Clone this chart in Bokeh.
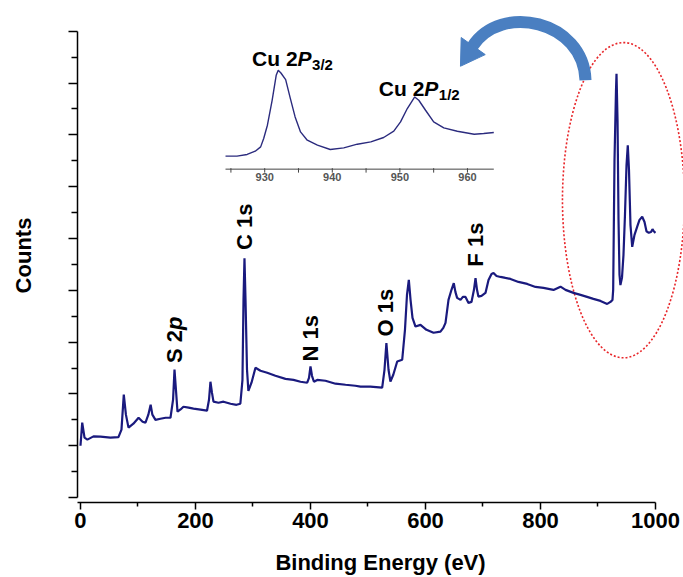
from bokeh.plotting import figure
from bokeh.models import Range1d, FixedTicker, CustomJSTickFormatter, Label
from bokeh.embed import file_html
from bokeh.resources import INLINE
from bokeh.core.properties import value

# ---------------- data: XPS survey spectrum ----------------
survey_be = [0, 3, 7, 12, 22.6, 34.8, 52, 66, 71.3, 75.3, 79, 83.5, 92, 101, 108, 113, 118, 122, 125,
             130.4, 139, 148, 156.5, 161, 163.5, 166, 168.7, 174, 179, 188, 196.5, 208.7, 220, 223.5,
             226, 228.7, 231.3, 240, 248.7, 260.9, 271.3, 278, 281.7, 283.5, 285.2, 287, 289.6, 292,
             297.4, 304.3, 313, 324.7, 339, 356.5, 370.4, 382.6, 394.3, 397.4, 400, 402.6, 406, 411.7,
             426, 443.5, 461, 478, 487, 504, 524.7, 528.7, 532, 535.7, 539, 544, 550.8, 559.5, 564.3,
             567.8, 571, 574, 577.4, 582.6, 591.3, 601.7, 614, 626, 631, 634.8, 640, 645.2, 649.2, 652,
             655, 660.9, 665, 669.6, 674.8, 680, 684.3, 687, 689.6, 692, 697.4, 704.3, 709.6, 714.8,
             718.3, 723.5, 730.4, 739, 747.8, 761.7, 776.9, 791.3, 805.2, 822.6, 834.8, 843.5, 857.4,
             869.6, 881, 892, 904.3, 916, 921.7, 925.2, 926.4, 928.7, 931.3, 932.2, 934, 935.7, 937.4,
             939, 941.7, 944.3, 946.9, 949.6, 951.8, 953.9, 956.5, 959.5, 963.5, 968.2, 972.2, 976.9,
             980.9, 984.3, 988.3, 992.2, 994.8, 997, 1000]
survey_counts = [1.00, 1.445, 1.156, 1.118, 1.181, 1.175, 1.156, 1.166, 1.31, 1.985, 1.6, 1.35, 1.426,
                 1.54, 1.464, 1.445, 1.6, 1.79, 1.6, 1.50, 1.52, 1.54, 1.54, 1.89, 2.47, 2.08, 1.657,
                 1.70, 1.753, 1.734, 1.715, 1.696, 1.676, 1.888, 2.235, 2.02, 1.85, 1.83, 1.85, 1.81,
                 1.79, 1.81, 2.27, 3.815, 4.62, 3.815, 2.466, 2.06, 2.216, 2.505, 2.447, 2.408, 2.35,
                 2.29, 2.27, 2.235, 2.216, 2.31, 2.53, 2.35, 2.235, 2.27, 2.254, 2.197, 2.177, 2.158,
                 2.14, 2.139, 2.12, 2.466, 2.98, 2.466, 2.24, 2.37, 2.626, 2.66, 3.237, 3.91, 4.20,
                 3.815, 3.468, 3.30, 3.333, 3.237, 3.18, 3.204, 3.276, 3.372, 3.815, 4.01, 4.137, 3.97,
                 3.854, 3.815, 3.873, 3.873, 3.757, 3.776, 4.01, 4.233, 4.01, 3.879, 3.892, 3.95, 4.20,
                 4.316, 4.335, 4.277, 4.258, 4.239, 4.22, 4.162, 4.123, 4.065, 4.046, 4.008, 4.07,
                 4.008, 3.95, 3.911, 3.873, 3.834, 3.796, 3.738, 3.776, 3.815, 4.008, 6.51, 7.86, 8.18,
                 7.27, 5.36, 4.30, 4.10, 4.24, 4.68, 5.45, 6.42, 6.80, 6.32, 5.26, 4.84, 5.07, 5.23,
                 5.36, 5.42, 5.32, 5.14, 5.11, 5.125, 5.18, 5.14, 5.11]

# ---------------- data: Cu 2p inset ----------------
cu_be = [924.2, 925.9, 927.4, 928.6, 929.4, 929.85, 930.4, 931.1, 931.7, 932.0, 932.4, 933.1, 933.8,
         934.5, 935.3, 936.3, 937.8, 939.7, 941.7, 943.7, 945.7, 947.6, 949.1, 950.1, 951.1, 952.2,
         952.8, 953.8, 955.0, 956.5, 958.5, 961.0, 962.4, 963.9]
cu_counts = [1.3, 1.3, 1.47, 1.8, 2.23, 3.07, 4.4, 6.9, 9.4, 9.9, 9.63, 8.97, 7.07, 5.23, 3.73, 2.9,
             2.4, 1.97, 2.13, 2.5, 2.73, 3.17, 3.8, 4.73, 6.07, 7.23, 6.9, 5.9, 4.73, 4.13, 3.8, 3.5,
             3.57, 3.67]

x_ticks = [0, 200, 400, 600, 800, 1000]
x_minor = [100, 300, 500, 700, 900]
y_ticks = [0, 1, 2, 3, 4, 5, 6, 7, 8, 9]
y_minor = [0.5, 1.5, 2.5, 3.5, 4.5, 5.5, 6.5, 7.5, 8.5]
inset_ticks = [930, 940, 950, 960]
inset_minor = [925, 935, 945, 955]

peak_names = ["C 1s", "N 1s", "O 1s", "F 1s"]
peak_be = [285.6, 400, 530.4, 687]
peak_y = [4.78, 2.626, 3.108, 4.457]
s_label_be, s_label_y = 163.8, 2.595

# ---------------- layout ----------------
X0, X1 = -5.2, 1048.7
Y0, Y1 = -0.096, 9.44
ins_ax_main = (252.2, 718.8)     # main-x extent of the inset axis
ins_ax_be = (924.2, 963.9)       # inset energy extent
ins_base_main = 6.339            # main-y of inset baseline
ins_unit_main = 0.1927           # main-y per inset unit
sx = (ins_ax_be[1] - ins_ax_be[0]) / (ins_ax_main[1] - ins_ax_main[0])
inset_x = Range1d(ins_ax_be[0] + (X0 - ins_ax_main[0]) * sx, ins_ax_be[0] + (X1 - ins_ax_main[0]) * sx)
inset_y = Range1d((Y0 - ins_base_main) / ins_unit_main, (Y1 - ins_base_main) / ins_unit_main)

FONT = "Liberation Sans"

p = figure(width=683, height=577, x_range=Range1d(X0, X1), y_range=Range1d(Y0, Y1),
           output_backend="svg", toolbar_location=None,
           min_border_left=77, min_border_right=0, min_border_top=8, min_border_bottom=74)
p.extra_x_ranges = {"inset_x": inset_x}
p.extra_y_ranges = {"inset_y": inset_y}
p.outline_line_color = None
p.grid.visible = False

# x axis
xa = p.xaxis[0]
xa.ticker = FixedTicker(ticks=x_ticks, minor_ticks=x_minor)
xa.bounds = (X0, 1000)
xa.axis_line_width = 1.5
xa.major_tick_line_width = 1.5
xa.minor_tick_line_width = 1.5
xa.major_tick_out = 7
xa.major_tick_in = 0
xa.minor_tick_out = 4
xa.minor_tick_in = 0
xa.major_label_standoff = 3
xa.major_label_text_font = FONT
xa.major_label_text_font_style = "bold"
xa.major_label_text_font_size = "22px"
xa.major_label_text_color = "black"
xa.axis_label = "Binding Energy (eV)"
xa.axis_label_text_font = FONT
xa.axis_label_text_font_style = "bold"
xa.axis_label_text_font_size = "22px"
xa.axis_label_text_color = "black"
xa.axis_label_standoff = 19

# y axis
ya = p.yaxis[0]
ya.ticker = FixedTicker(ticks=y_ticks, minor_ticks=y_minor)
ya.bounds = (0, 9)
ya.formatter = CustomJSTickFormatter(code="return ''")
ya.axis_line_width = 1.5
ya.major_tick_line_width = 1.5
ya.minor_tick_line_width = 1.5
ya.major_tick_out = 9
ya.major_tick_in = 0
ya.minor_tick_out = 6
ya.minor_tick_in = 0
ya.major_label_standoff = 0
ya.axis_label = "Counts"
ya.axis_label_text_font = FONT
ya.axis_label_text_font_style = "bold"
ya.axis_label_text_font_size = "22px"
ya.axis_label_text_color = "black"
ya.axis_label_standoff = 33

# highlight ellipse around Cu 2p region
p.ellipse(x=944.3, y=5.74, width=212.2, height=6.09, fill_color=None,
          line_color="#e8262a", line_dash="2 2", line_width=1.6)

# main spectrum
p.line(survey_be, survey_counts, line_color="#1a1a7e", line_width=2.2)

# inset spectrum
p.line(cu_be, cu_counts, x_range_name="inset_x", y_range_name="inset_y",
       line_color="#2b2b7e", line_width=1.4)
p.segment(x0=[ins_ax_be[0]], y0=[0], x1=[ins_ax_be[1]], y1=[0],
          x_range_name="inset_x", y_range_name="inset_y", line_color="#444444", line_width=1)
p.segment(x0=inset_ticks + inset_minor, y0=0.1, x1=inset_ticks + inset_minor, y1=-0.35,
          x_range_name="inset_x", y_range_name="inset_y", line_color="#444444", line_width=1)
p.text(x=inset_ticks, y=[0] * len(inset_ticks), text=[str(t) for t in inset_ticks],
       x_range_name="inset_x", y_range_name="inset_y", text_align="center", text_baseline="top",
       y_offset=4, text_font=value(FONT), text_font_style="bold", text_font_size="11px",
       text_color="#555555")

# curved arrow
p.bezier(x0=[878.3], y0=[8.054], x1=[681.7], y1=[8.709], cx0=[874.8], cy0=[9.21],
         cx1=[730.4], cy1=[9.557], line_color="#4a7fc1", line_width=12)
p.patch([703.9, 660.8, 662.1], [8.550, 8.325, 8.880], fill_color="#4a7fc1", line_color="#4a7fc1")

# peak labels (rotated)
for name, xb, yb in zip(peak_names, peak_be, peak_y):
    p.add_layout(Label(x=xb, y=yb, text=name, angle=90, angle_units="deg", text_align="left",
                       text_baseline="middle", text_font=FONT, text_font_style="bold",
                       text_font_size="22px", text_color="black"))
p.add_layout(Label(x=s_label_be, y=s_label_y, text="S 2", angle=90, angle_units="deg",
                   text_align="left", text_baseline="middle", text_font=FONT,
                   text_font_style="bold", text_font_size="22px", text_color="black"))
p.add_layout(Label(x=s_label_be, y=s_label_y, text="p", angle=90, angle_units="deg", y_offset=33,
                   text_align="left", text_baseline="middle", text_font=FONT,
                   text_font_style="bold italic", text_font_size="22px", text_color="black"))

# Cu 2p labels in inset
for (lx, ly, sub) in [(928.13, 11.07, "3/2"), (946.89, 8.07, "1/2")]:
    common = dict(x=lx, y=ly, x_range_name="inset_x", y_range_name="inset_y",
                  text_align="left", text_baseline="alphabetic", text_font=FONT, text_color="black")
    p.add_layout(Label(text="Cu 2", text_font_style="bold", text_font_size="21px", **common))
    p.add_layout(Label(text="P", x_offset=45.5, text_font_style="bold italic", text_font_size="21px", **common))
    p.add_layout(Label(text=sub, x_offset=60, y_offset=-6, text_font_style="bold",
                       text_font_size="15px", **common))

open("out.html", "w").write(file_html(p, INLINE))
